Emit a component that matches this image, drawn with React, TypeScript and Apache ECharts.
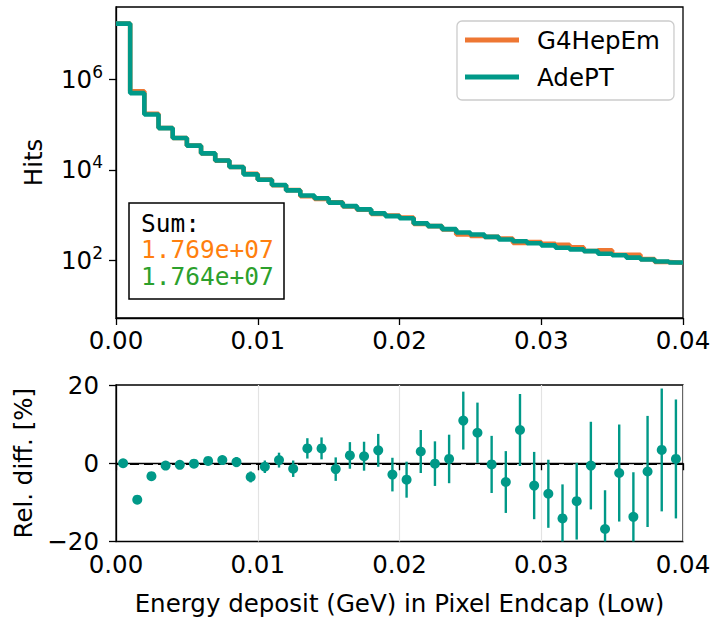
import React, { useEffect, useRef } from "react";
import * as echarts from "echarts";

// Bin edges (GeV)
const binEdges = [
  0, 0.001, 0.002, 0.003, 0.004, 0.005, 0.006, 0.007, 0.008, 0.009,
  0.01, 0.011, 0.012, 0.013, 0.014, 0.015, 0.016, 0.017, 0.018, 0.019,
  0.02, 0.021, 0.022, 0.023, 0.024, 0.025, 0.026, 0.027, 0.028, 0.029,
  0.03, 0.031, 0.032, 0.033, 0.034, 0.035, 0.036, 0.037, 0.038, 0.039, 0.04,
];

const g4hepemHits = [
  16720400, 540000, 171700, 83500, 50200, 34030, 22860, 15870, 11470, 8190,
  6050, 4560, 3550, 2600, 2265, 1910, 1550, 1315, 1055, 978,
  887, 636, 571, 484, 372, 346, 331, 305, 244, 255,
  233, 221, 194, 161, 168, 133, 133, 107, 92, 89,
];

const adeptHits = [
  16727000, 490000, 166000, 83000, 50000, 34000, 23000, 16000, 11500, 7900,
  6000, 4600, 3500, 2700, 2350, 1880, 1580, 1340, 1090, 950,
  850, 655, 570, 489, 413, 373, 330, 290, 265, 240,
  215, 190, 175, 160, 140, 130, 115, 105, 95, 90,
];

const relDiff = [
  0, -9.3, -3.3, -0.6, -0.4, -0.1, 0.6, 0.8, 0.3, -3.5,
  -0.9, 0.8, -1.4, 3.8, 3.8, -1.5, 2.0, 1.8, 3.3, -2.9,
  -4.2, 3.0, -0.1, 1.1, 10.9, 7.8, -0.3, -4.8, 8.5, -5.7,
  -7.8, -14.1, -9.7, -0.6, -16.8, -2.5, -13.7, -2.1, 3.4, 1.1,
];

const relErr = [
  0.05, 0.2, 0.35, 0.5, 0.6, 0.75, 0.9, 1.1, 1.3, 1.4,
  1.6, 1.9, 2.1, 2.6, 2.8, 3.0, 3.4, 3.7, 4.2, 4.3,
  4.6, 5.5, 5.7, 6.2, 7.4, 7.7, 7.3, 7.9, 9.2, 8.6,
  8.7, 8.7, 9.8, 11.2, 9.9, 12.4, 11.4, 14.2, 15.7, 15.2,
];

const logTickValues = [2, 4, 6];
const seriesNames = ["G4HepEm", "AdePT"];

const ORANGE = "#EE7733";
const TEAL = "#009988";
const FONT = "DejaVu Sans";
const FS = 24.5;

function fmtSum(arr: number[]): string {
  const s = arr.reduce((a, b) => a + b, 0);
  const [m, e] = s.toExponential(3).split("e");
  const sign = e[0] === "-" ? "-" : "+";
  const digits = e.replace(/[+-]/, "").padStart(2, "0");
  return `${m}e${sign}${digits}`;
}

function stepData(counts: number[]) {
  const pts: number[][] = counts.map((c, i) => [binEdges[i], Math.log10(c)]);
  pts.push([binEdges[binEdges.length - 1], Math.log10(counts[counts.length - 1])]);
  return pts;
}

export default function App() {
  const ref = useRef<HTMLDivElement>(null);
  useEffect(() => {
    if (!ref.current) return;
    const chart = echarts.init(ref.current, undefined, { renderer: "svg" });
    const centers = relDiff.map((_, i) => (binEdges[i] + binEdges[i + 1]) / 2);
    const errData = relDiff.map((v, i) => [centers[i], v, relErr[i]]);
    const ptData = relDiff.map((v, i) => [centers[i], v]);

    const axisLine = { show: true, lineStyle: { color: "#000", width: 1.3 } };
    const axisTick = { show: true, length: 7, lineStyle: { color: "#000", width: 1.3 } };
    const labelStyle = { color: "#000", fontSize: FS, fontFamily: FONT };
    const monoStyle = { font: `${FS}px "DejaVu Sans Mono"`, verticalAlign: "middle", lineHeight: 25 };

    const option: any = {
      animation: false,
      textStyle: { fontFamily: FONT },
      grid: [
        { left: 116, top: 7, right: 32, height: 311, show: true, borderColor: "#000", borderWidth: 1.3 },
        { left: 116, top: 385, right: 32, height: 156.5, show: true, borderColor: "#000", borderWidth: 1.3 },
      ],
      legend: {
        data: seriesNames,
        orient: "vertical",
        left: 457,
        top: 21,
        icon: "rect",
        itemWidth: 54,
        itemHeight: 5,
        itemGap: 9,
        padding: [5, 14, 9, 8],
        borderColor: "#cccccc",
        borderWidth: 1.3,
        borderRadius: 5,
        backgroundColor: "rgba(255,255,255,0.85)",
        textStyle: { color: "#000", fontSize: FS, fontFamily: FONT, lineHeight: 28, padding: [0, 0, 0, 13] },
      },
      xAxis: [
        {
          type: "value", gridIndex: 0, min: 0, max: 0.04, interval: 0.01,
          axisLine, axisTick,
          axisLabel: { ...labelStyle, margin: 10, formatter: (v: number) => v.toFixed(2) },
          splitLine: { show: false },
        },
        {
          type: "value", gridIndex: 1, min: 0, max: 0.04, interval: 0.01,
          axisLine, axisTick,
          axisLabel: { ...labelStyle, margin: 10, formatter: (v: number) => v.toFixed(2) },
          splitLine: { show: true, lineStyle: { color: "#e3e3e3", width: 1.2 } },
          name: "Energy deposit (GeV) in Pixel Endcap (Low)",
          nameLocation: "middle",
          nameGap: 49,
          nameTextStyle: { ...labelStyle },
        },
      ],
      yAxis: [
        {
          type: "value", gridIndex: 0, min: 0.73, max: 7.59,
          axisLine,
          axisTick: { ...axisTick, customValues: logTickValues },
          axisLabel: {
            customValues: logTickValues,
            margin: 13,
            formatter: (v: number) => `{b|10}{s|${Math.round(v)}}`,
            rich: {
              b: { fontSize: FS, fontFamily: FONT, color: "#000", lineHeight: 32 },
              s: { fontSize: 17, fontFamily: FONT, color: "#000", lineHeight: 17, verticalAlign: "top" },
            },
          },
          splitLine: { show: false },
          name: "Hits",
          nameLocation: "middle",
          nameGap: 70,
          nameTextStyle: { ...labelStyle },
        },
        {
          type: "value", gridIndex: 1, min: -20, max: 20, interval: 20,
          axisLine, axisTick,
          axisLabel: {
            ...labelStyle, margin: 17,
            formatter: (v: number) => (v < 0 ? "\u2212" + Math.abs(v) : String(v)),
          },
          splitLine: { show: false },
          name: "Rel. diff. [%]",
          nameLocation: "middle",
          nameGap: 80,
          nameTextStyle: { ...labelStyle },
        },
      ],
      series: [
        {
          name: seriesNames[0], type: "line", xAxisIndex: 0, yAxisIndex: 0,
          step: "end", showSymbol: false, symbol: "none",
          data: stepData(g4hepemHits),
          lineStyle: { color: ORANGE, width: 4.6 }, itemStyle: { color: ORANGE },
          z: 2,
        },
        {
          name: seriesNames[1], type: "line", xAxisIndex: 0, yAxisIndex: 0,
          step: "end", showSymbol: false, symbol: "none",
          data: stepData(adeptHits),
          lineStyle: { color: TEAL, width: 4.6 }, itemStyle: { color: TEAL },
          z: 3,
        },
        {
          type: "custom", xAxisIndex: 1, yAxisIndex: 1,
          encode: { x: 0, y: 1 },
          data: errData,
          renderItem: (params: any, api: any) => {
            const x = api.value(0), y = api.value(1), e = api.value(2);
            const p1 = api.coord([x, y + e]);
            const p2 = api.coord([x, y - e]);
            const cs = params.coordSys;
            const top = Math.max(p1[1], cs.y);
            const bot = Math.min(p2[1], cs.y + cs.height);
            return {
              type: "line",
              shape: { x1: p1[0], y1: top, x2: p1[0], y2: bot },
              style: { stroke: TEAL, lineWidth: 2.4 },
            };
          },
          z: 3,
        },
        {
          type: "scatter", xAxisIndex: 1, yAxisIndex: 1,
          data: ptData, symbol: "circle", symbolSize: 10,
          itemStyle: { color: TEAL, opacity: 1 },
          z: 4,
          markLine: {
            silent: true, symbol: "none",
            label: { show: false },
            lineStyle: { color: "#000", width: 2.2, type: [9, 5] },
            data: [{ yAxis: 0 }],
            z: 2,
          },
        },
      ],
      graphic: [
        {
          type: "rect", z: 100,
          shape: { x: 129, y: 203, width: 155, height: 96 },
          style: { fill: "#fff", stroke: "#000", lineWidth: 1.5 },
        },
        {
          type: "text", z: 101, x: 141, y: 223,
          style: { ...monoStyle, text: "Sum:", fill: "#000" },
        },
        {
          type: "text", z: 101, x: 141, y: 249.5,
          style: { ...monoStyle, text: fmtSum(g4hepemHits), fill: "#ff7f0e" },
        },
        {
          type: "text", z: 101, x: 141, y: 276,
          style: { ...monoStyle, text: fmtSum(adeptHits), fill: "#2ca02c" },
        },
      ],
    };
    chart.setOption(option);
    return () => chart.dispose();
  }, []);
  return (
    <div
      ref={ref}
      style={{ position: "fixed", left: 0, top: 0, width: 715, height: 617, background: "#fff" }}
    />
  );
}
